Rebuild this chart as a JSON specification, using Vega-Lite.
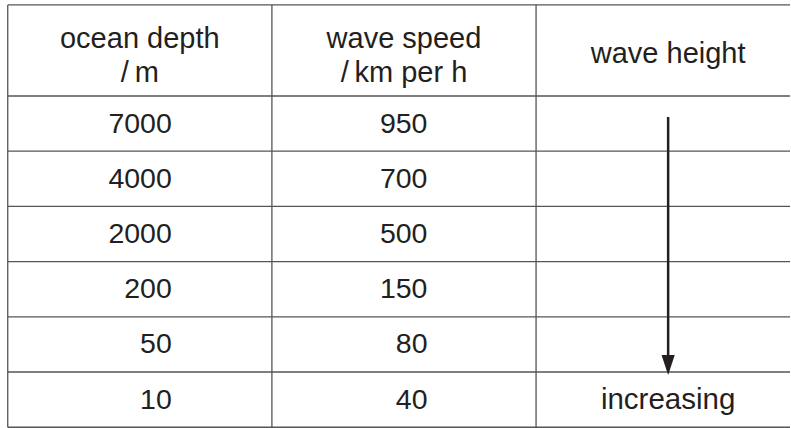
{
  "$schema": "https://vega.github.io/schema/vega-lite/v6.json",
  "width": 791,
  "height": 428,
  "autosize": {"type": "fit", "contains": "padding"},
  "padding": 0,
  "background": "white",
  "config": {"view": {"stroke": null}, "axis": {"disable": true}},
  "datasets": {
    "header2": [
      {"col": 1, "row": 0, "text": "ocean depth\n/\u2009m"},
      {"col": 2, "row": 0, "text": "wave speed\n/\u2009km per h"}
    ],
    "header1": [
      {"col": 3, "row": 0, "text": "wave height"}
    ],
    "depth": [
      {"col": 1, "row": 1, "text": "7000"},
      {"col": 1, "row": 2, "text": "4000"},
      {"col": 1, "row": 3, "text": "2000"},
      {"col": 1, "row": 4, "text": "200"},
      {"col": 1, "row": 5, "text": "50"},
      {"col": 1, "row": 6, "text": "10"}
    ],
    "speed": [
      {"col": 2, "row": 1, "text": "950"},
      {"col": 2, "row": 2, "text": "700"},
      {"col": 2, "row": 3, "text": "500"},
      {"col": 2, "row": 4, "text": "150"},
      {"col": 2, "row": 5, "text": "80"},
      {"col": 2, "row": 6, "text": "40"}
    ],
    "note": [
      {"col": 3, "row": 6, "text": "increasing"}
    ],
    "hlines": [
      {"edge": -1.15}, {"edge": 0.5}, {"edge": 1.5}, {"edge": 2.5},
      {"edge": 3.5}, {"edge": 4.5}, {"edge": 5.5}, {"edge": 6.5}
    ],
    "vlines": [
      {"edge": 0.5}, {"edge": 1.5}, {"edge": 2.5}
    ],
    "arrow": [
      {"col": 3, "from": 0.88, "to": 5.3, "head": 5.373}
    ]
  },
  "layer": [
    {
      "data": {"name": "hlines"},
      "mark": {"type": "rule", "color": "#555555", "strokeWidth": 1.3},
      "encoding": {
        "y": {"field": "edge", "type": "quantitative", "scale": {"domain": [-1.239, 6.514], "reverse": true, "nice": false, "zero": false}},
        "x": {"datum": 0.5, "type": "quantitative", "scale": {"domain": [0.4707, 3.4613], "nice": false, "zero": false}},
        "x2": {"datum": 3.4613}
      }
    },
    {
      "data": {"name": "vlines"},
      "mark": {"type": "rule", "color": "#555555", "strokeWidth": 1.3},
      "encoding": {
        "x": {"field": "edge", "type": "quantitative", "scale": {"domain": [0.4707, 3.4613], "nice": false, "zero": false}},
        "y": {"datum": -1.15, "type": "quantitative", "scale": {"domain": [-1.239, 6.514], "reverse": true, "nice": false, "zero": false}},
        "y2": {"datum": 6.5}
      }
    },
    {
      "data": {"name": "header2"},
      "mark": {"type": "text", "font": "Liberation Sans", "fontSize": 29, "color": "#231f20", "align": "center", "baseline": "middle", "lineBreak": "\n", "lineHeight": 34, "yOffset": -29},
      "encoding": {
        "x": {"field": "col", "type": "quantitative", "scale": {"domain": [0.4707, 3.4613], "nice": false, "zero": false}},
        "y": {"field": "row", "type": "quantitative", "scale": {"domain": [-1.239, 6.514], "reverse": true, "nice": false, "zero": false}},
        "text": {"field": "text"}
      }
    },
    {
      "data": {"name": "header1"},
      "mark": {"type": "text", "font": "Liberation Sans", "fontSize": 29, "color": "#231f20", "align": "center", "baseline": "middle", "yOffset": -14.5},
      "encoding": {
        "x": {"field": "col", "type": "quantitative", "scale": {"domain": [0.4707, 3.4613], "nice": false, "zero": false}},
        "y": {"field": "row", "type": "quantitative", "scale": {"domain": [-1.239, 6.514], "reverse": true, "nice": false, "zero": false}},
        "text": {"field": "text"}
      }
    },
    {
      "data": {"name": "depth"},
      "mark": {"type": "text", "font": "Liberation Sans", "fontSize": 28.5, "color": "#231f20", "align": "right", "baseline": "middle", "dx": 32},
      "encoding": {
        "x": {"field": "col", "type": "quantitative", "scale": {"domain": [0.4707, 3.4613], "nice": false, "zero": false}},
        "y": {"field": "row", "type": "quantitative", "scale": {"domain": [-1.239, 6.514], "reverse": true, "nice": false, "zero": false}},
        "text": {"field": "text"}
      }
    },
    {
      "data": {"name": "speed"},
      "mark": {"type": "text", "font": "Liberation Sans", "fontSize": 28.5, "color": "#231f20", "align": "right", "baseline": "middle", "dx": 23.5},
      "encoding": {
        "x": {"field": "col", "type": "quantitative", "scale": {"domain": [0.4707, 3.4613], "nice": false, "zero": false}},
        "y": {"field": "row", "type": "quantitative", "scale": {"domain": [-1.239, 6.514], "reverse": true, "nice": false, "zero": false}},
        "text": {"field": "text"}
      }
    },
    {
      "data": {"name": "note"},
      "mark": {"type": "text", "font": "Liberation Sans", "fontSize": 29.5, "color": "#231f20", "align": "center", "baseline": "middle"},
      "encoding": {
        "x": {"field": "col", "type": "quantitative", "scale": {"domain": [0.4707, 3.4613], "nice": false, "zero": false}},
        "y": {"field": "row", "type": "quantitative", "scale": {"domain": [-1.239, 6.514], "reverse": true, "nice": false, "zero": false}},
        "text": {"field": "text"}
      }
    },
    {
      "data": {"name": "arrow"},
      "mark": {"type": "rule", "color": "#231f20", "strokeWidth": 2.5},
      "encoding": {
        "x": {"field": "col", "type": "quantitative", "scale": {"domain": [0.4707, 3.4613], "nice": false, "zero": false}},
        "y": {"field": "from", "type": "quantitative", "scale": {"domain": [-1.239, 6.514], "reverse": true, "nice": false, "zero": false}},
        "y2": {"field": "to"}
      }
    },
    {
      "data": {"name": "arrow"},
      "mark": {"type": "point", "shape": "M-0.66,-1L0.66,-1L0,1Z", "size": 400, "filled": true, "color": "#231f20", "opacity": 1, "strokeWidth": 0},
      "encoding": {
        "x": {"field": "col", "type": "quantitative", "scale": {"domain": [0.4707, 3.4613], "nice": false, "zero": false}},
        "y": {"field": "head", "type": "quantitative", "scale": {"domain": [-1.239, 6.514], "reverse": true, "nice": false, "zero": false}}
      }
    }
  ]
}
